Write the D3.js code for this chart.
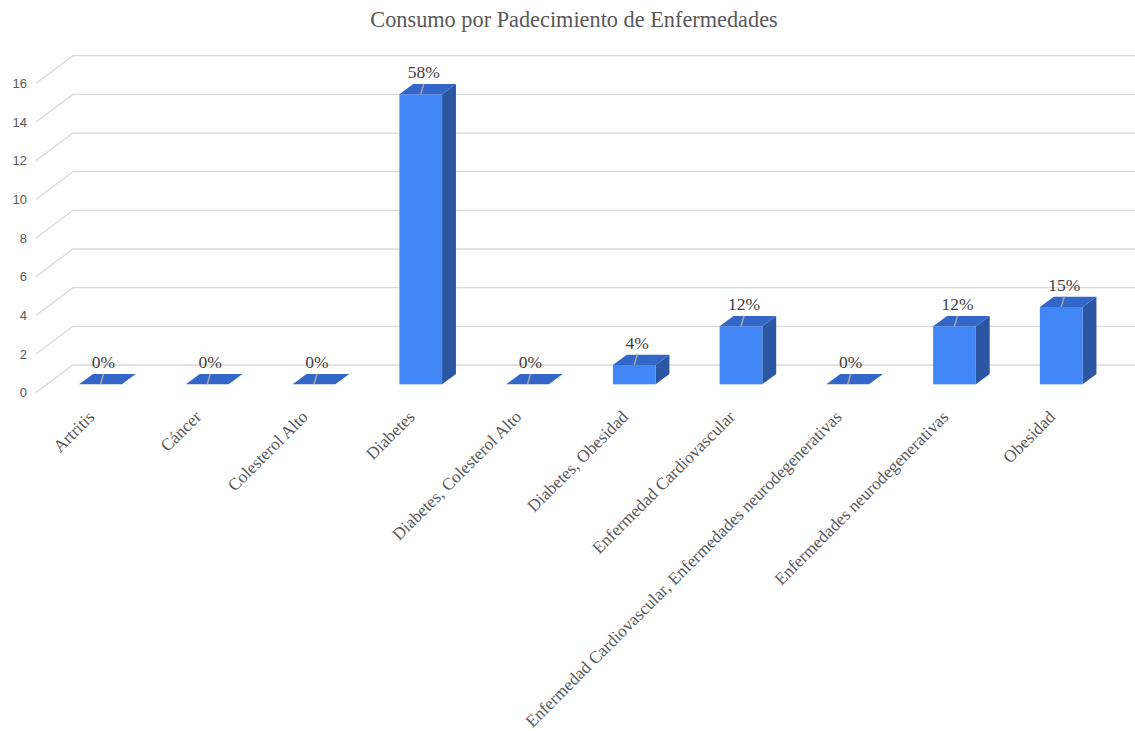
<!DOCTYPE html>
<html>
<head>
<meta charset="utf-8">
<script src="https://cdn.jsdelivr.net/npm/d3@7"></script>
<style>
  html, body { margin: 0; padding: 0; background: #ffffff; }
  svg { display: block; }
</style>
</head>
<body>
<svg id="chart" width="1135" height="731"></svg>
<script>
// Number of people per condition
const categories = [
  "Artritis",
  "Cáncer",
  "Colesterol Alto",
  "Diabetes",
  "Diabetes, Colesterol Alto",
  "Diabetes, Obesidad",
  "Enfermedad Cardiovascular",
  "Enfermedad Cardiovascular, Enfermedades neurodegenerativas",
  "Enfermedades neurodegenerativas",
  "Obesidad"
];
const values = [0, 0, 0, 15, 0, 1, 3, 0, 3, 4];
const yTicks = [0, 2, 4, 6, 8, 10, 12, 14, 16];
const chartTitle = "Consumo por Padecimiento de Enfermedades";

const W = 1135, H = 731;
const svg = d3.select("#chart");

// Oblique 3D frame: front floor edge, depth vector toward the back wall
const floorFrontY = 392.6;
const frontLeftX = 36;
const depth = { dx: 37, dy: -27.6 };
const barDepthStart = 0.30, barDepthEnd = 0.675;   // bar sits inside the floor depth
const plotWidth = 1067.5;

const colors = {
  front: "#4285f4",
  top: "#3366c9",
  side: "#2b56a3",
  grid: "#d9d9d9",
  text: "#595959",
  label: "#404040",
  leader: "#a6a6a6"
};

const serif = "'Liberation Serif', 'Times New Roman', Times, serif";

// Value scale on the front plane (height in px above the floor)
const h = d3.scaleLinear().domain([0, 16]).range([0, 309.3]);
const yFront = d3.scaleLinear().domain([0, 16]).range([floorFrontY, floorFrontY - 309.3]);

// Category band scale on the plane where the bars' front faces lie
const barFrontOffsetX = frontLeftX + barDepthStart * depth.dx;
const barFrontFloorY = floorFrontY + barDepthStart * depth.dy;
const x = d3.scaleBand()
  .domain(categories)
  .range([barFrontOffsetX, barFrontOffsetX + plotWidth])
  .paddingInner(0.6)
  .paddingOuter(0.3);

const bdx = (barDepthEnd - barDepthStart) * depth.dx;
const bdy = (barDepthEnd - barDepthStart) * depth.dy;

// Title
svg.append("text")
  .attr("x", 574)
  .attr("y", 27)
  .attr("text-anchor", "middle")
  .style("font-family", serif)
  .style("font-size", "22.3px")
  .attr("fill", colors.text)
  .text(chartTitle);

// Gridlines: diagonal on the side wall, then horizontal along the back wall
const grid = svg.append("g").attr("fill", "none")
  .attr("stroke", colors.grid).attr("stroke-width", 1.3);
grid.selectAll("path")
  .data(yTicks)
  .join("path")
  .attr("d", d => {
    const y0 = yFront(d);
    return `M${frontLeftX},${y0} L${frontLeftX + depth.dx},${y0 + depth.dy} L${W},${y0 + depth.dy}`;
  });

// Y axis labels
const yAxis = d3.axisLeft(yFront).tickValues(yTicks).tickSize(0).tickPadding(0);
const yg = svg.append("g").attr("transform", "translate(27,0)").call(yAxis);
yg.select(".domain").remove();
yg.selectAll("text")
  .style("font-family", "'Liberation Sans', Arial, sans-serif")
  .style("font-size", "13px")
  .attr("fill", colors.text);

// Bars
const bars = svg.append("g");
const total = d3.sum(values);
const pct = d3.format(".0%");

categories.forEach((c, i) => {
  const v = values[i];
  const x0 = x(c), x1 = x0 + x.bandwidth();
  const yb = barFrontFloorY;
  const yt = yb - h(v);
  const g = bars.append("g");
  if (v > 0) {
    // right side face
    g.append("path")
      .attr("d", `M${x1},${yt} L${x1 + bdx},${yt + bdy} L${x1 + bdx},${yb + bdy} L${x1},${yb} Z`)
      .attr("fill", colors.side);
    // front face
    g.append("rect")
      .attr("x", x0).attr("y", yt)
      .attr("width", x.bandwidth()).attr("height", yb - yt)
      .attr("fill", colors.front);
  }
  // top face
  g.append("path")
    .attr("d", `M${x0},${yt} L${x0 + bdx},${yt + bdy} L${x1 + bdx},${yt + bdy} L${x1},${yt} Z`)
    .attr("fill", colors.top);

  // data label with leader line
  const cx = x0 + x.bandwidth() / 2;
  const lx = cx + 3;
  const ly = yt + bdy - 6;
  g.append("line")
    .attr("x1", cx).attr("y1", yt)
    .attr("x2", lx).attr("y2", ly + 6)
    .attr("stroke", colors.leader).attr("stroke-width", 1.5);
  g.append("text")
    .attr("x", lx).attr("y", ly)
    .attr("text-anchor", "middle")
    .style("font-family", serif)
    .style("font-size", "17.5px")
    .attr("fill", colors.label)
    .text(pct(v / total));
});

// Category labels, rotated
const xAxis = d3.axisBottom(x).tickSize(0).tickPadding(0);
const xg = svg.append("g").attr("transform", "translate(-5,418)").call(xAxis);
xg.select(".domain").remove();
xg.selectAll("text")
  .attr("y", 0).attr("dy", 0).attr("x", 0)
  .attr("text-anchor", "end")
  .attr("transform", "rotate(-45)")
  .style("font-family", serif)
  .style("font-size", "17.3px")
  .attr("fill", colors.text);
</script>
</body>
</html>
